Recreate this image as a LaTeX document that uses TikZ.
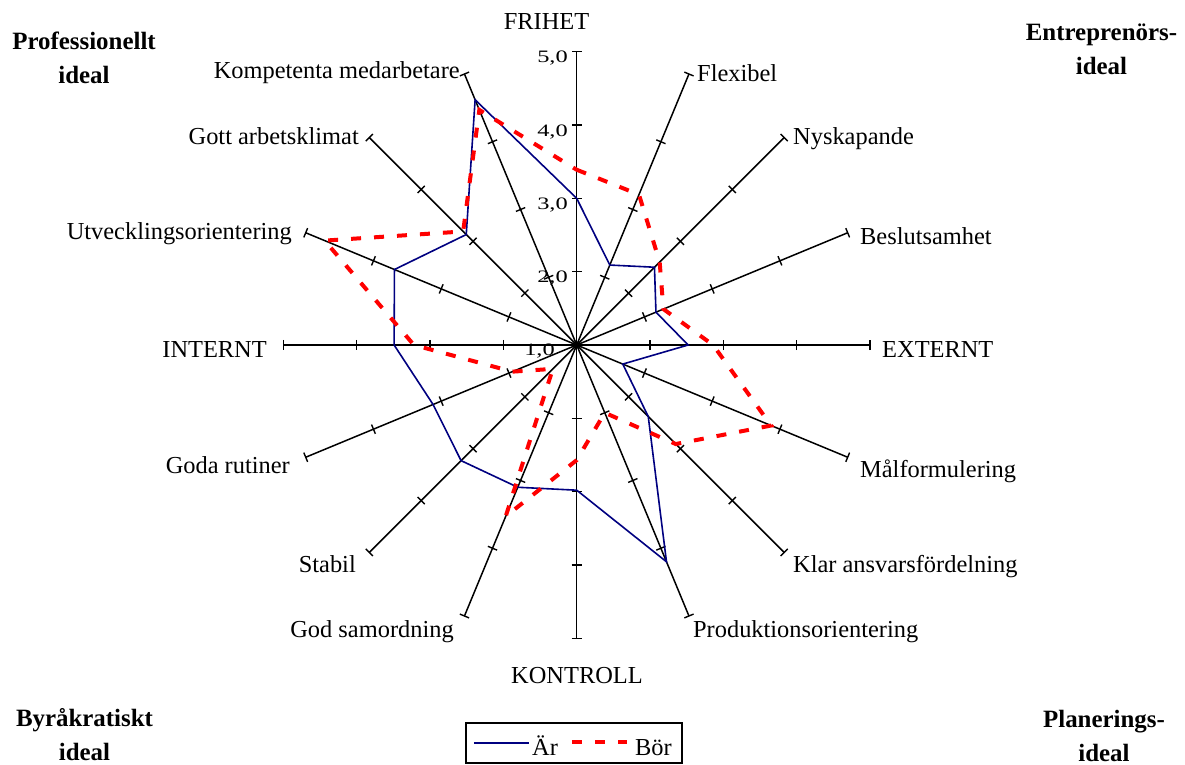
\documentclass[tikz,border=0pt]{standalone}
\usepackage{fontspec}
\setmainfont{Liberation Serif}
\usepackage{graphicx}
\usepackage{tikz}
\usetikzlibrary{calc,positioning}

\definecolor{arblue}{HTML}{000080}
\definecolor{borred}{HTML}{FF0000}

\begin{document}
\begin{tikzpicture}[x=73.33bp, y=73.33bp, line join=miter,
    spoke/.style={black, line width=1.5bp},
    axtick/.style={black, line width=1.4bp},
    arline/.style={arblue, line width=1.6bp},
    borline/.style={borred, line width=4bp, dash pattern=on 10bp off 13bp},
    lbl/.style={font=\fontsize{24.5}{29}\selectfont, inner sep=0pt},
    val/.style={font=\fontsize{17.5}{20}\selectfont, inner sep=0pt, anchor=base east},
    ideal/.style={font=\bfseries\fontsize{25}{34}\selectfont, align=center, inner sep=0pt}]

  \useasboundingbox (-576.7bp,-420bp) rectangle (608.3bp,345bp);

  \coordinate (c) at (0,0);
  \foreach \i in {0,...,15}{
    \coordinate (a\i) at ({90-22.5*\i}:4);
    \draw[spoke] (c) -- (a\i);
    \foreach \r in {1,...,4}
      \draw[axtick, rotate={90-22.5*\i}] (\r,-5bp) -- (\r,5bp);
  }

  % scale on the FRIHET axis
  \node[val] (v1) at ([shift={(-21.7bp,-10bp)}]c) {\scalebox{1.4}[1]{1,0}};
  \foreach \k in {2,...,5}
    \node[val] (v\k) at ([shift={(-8.7bp,-11.3bp)}]0,\k-1) {\scalebox{1.4}[1]{\k,0}};

  % Är
  \foreach \v [count=\i from 0] in {3.0,2.18,2.5,2.17,2.52,1.68,2.38,4.2,2.98,3.1,3.23,3.12,3.49,3.69,3.13,4.62}
    \coordinate (p\i) at ({90-22.5*\i}:{\v-1});
  \draw[arline] (p0) \foreach \i in {1,...,15}{ -- (p\i)} -- cycle;

  % Bör
  \foreach \v [count=\i from 0] in {3.39,3.22,2.6,2.28,2.86,3.87,2.91,2.0,2.57,3.53,1.46,1.95,3.22,4.72,3.19,4.47}
    \coordinate (q\i) at ({90-22.5*\i}:{\v-1});
  \draw[borline] (q0) \foreach \i in {1,...,15}{ -- (q\i)} -- cycle;

  \node[lbl, anchor=base] (frihet) at ([shift={(-30.2bp,21.7bp)}]a0) {FRIHET};
  \node[lbl, anchor=base west] (flex) at ([shift={(8.1bp,-7bp)}]a1) {Flexibel};
  \node[lbl, anchor=base west] (nysk) at ([shift={(8.9bp,-7.4bp)}]a2) {Nyskapande};
  \node[lbl, anchor=base west] (besl) at ([shift={(12.3bp,-12.2bp)}]a3) {Beslutsamhet};
  \node[lbl, anchor=base west] (ext) at ([shift={(12bp,-12bp)}]a4) {EXTERNT};
  \node[lbl, anchor=base west] (malf) at ([shift={(12.3bp,-19.8bp)}]a5) {Målformulering};
  \node[lbl, anchor=base west] (klar) at ([shift={(8.9bp,-19.6bp)}]a6) {Klar ansvarsfördelning};
  \node[lbl, anchor=base west] (prod) at ([shift={(4bp,-22bp)}]a7) {Produktionsorientering};
  \node[lbl, anchor=base] (kontr) at ([shift={(0.3bp,-44.7bp)}]a8) {KONTROLL};
  \node[lbl, anchor=base east] (samo) at ([shift={(-10.5bp,-22bp)}]a9) {God samordning};
  \node[lbl, anchor=base east] (stab) at ([shift={(-13.3bp,-19.6bp)}]a10) {Stabil};
  \node[lbl, anchor=base east] (rutin) at ([shift={(-15.7bp,-15.8bp)}]a11) {Goda rutiner};
  \node[lbl, anchor=base east] (int) at ([shift={(-16.4bp,-12bp)}]a12) {INTERNT};
  \node[lbl, anchor=base east] (utv) at ([shift={(-13.7bp,-7.2bp)}]a13) {Utvecklingsorientering};
  \node[lbl, anchor=base east] (klim) at ([shift={(-10.3bp,-7.4bp)}]a14) {Gott arbetsklimat};
  \node[lbl, anchor=base east] (komp) at ([shift={(-4.5bp,-4bp)}]a15) {Kompetenta medarbetare};

  \node[ideal] (prof) at (-492.7bp,287bp) {Professionellt\\ideal};
  \node[ideal] (entr) at (524.8bp,296bp) {Entreprenörs-\\ideal};
  \node[ideal] (byra) at (-492.2bp,-390bp) {Byråkratiskt\\ideal};
  \node[ideal] (plan) at (527.3bp,-391bp) {Planerings-\\ideal};

  % legend
  \draw[black, line width=1.3bp] (-110.7bp,-378bp) rectangle (105.3bp,-418bp);
  \coordinate (l1) at (-102.7bp,-398bp);
  \coordinate (l2) at (-47.7bp,-398bp);
  \coordinate (l3) at (-4.7bp,-397bp);
  \coordinate (l4) at (50.3bp,-397bp);
  \draw[arline] (l1) -- (l2);
  \draw[borline] (l3) -- (l4);
  \node[lbl, anchor=base west] (ar) at (-44.7bp,-410bp) {Är};
  \node[lbl, anchor=base west] (bor) at (58.3bp,-410bp) {Bör};
\end{tikzpicture}
\end{document}
